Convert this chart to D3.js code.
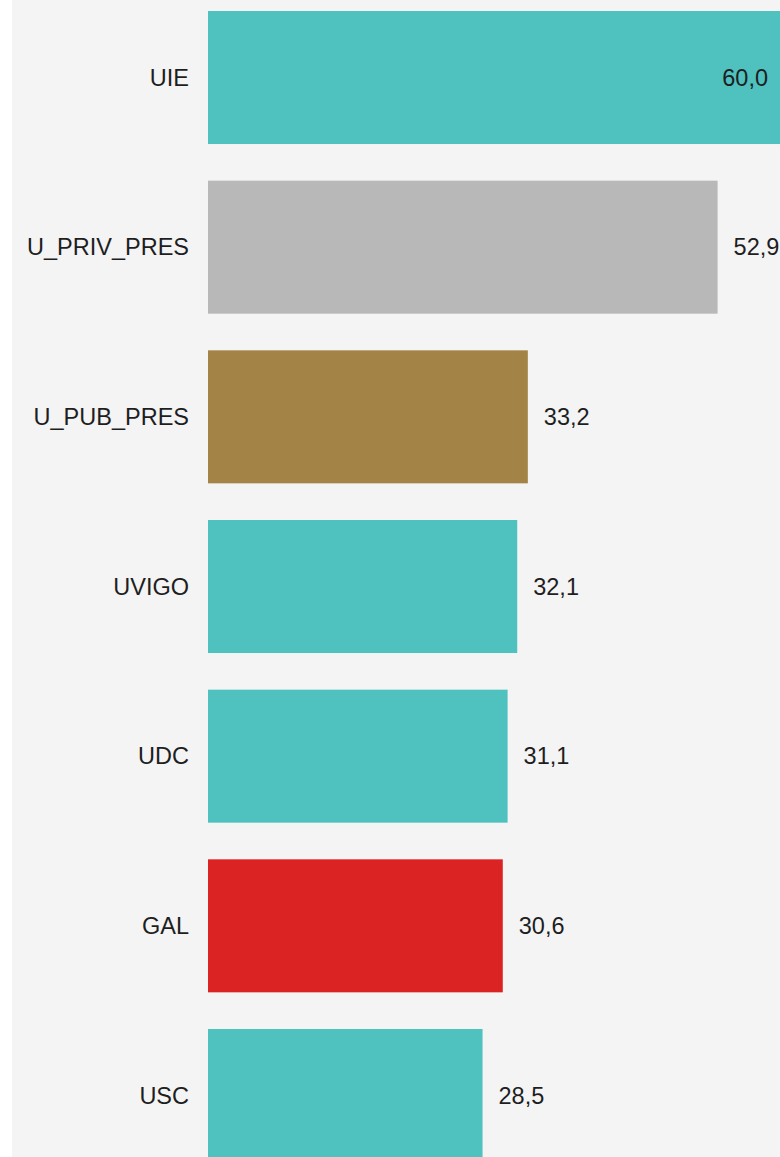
<!DOCTYPE html>
<html><head><meta charset="utf-8">
<script src="https://cdn.jsdelivr.net/npm/d3@7"></script>
<style>html,body{margin:0;padding:0;background:#fff;overflow:hidden}svg{display:block}</style>
</head><body>
<script>
const categories = ["UIE","U_PRIV_PRES","U_PUB_PRES","UVIGO","UDC","GAL","USC"];
const values = [60.0, 52.9, 33.2, 32.1, 31.1, 30.6, 28.5];
const colors = ["#4fc1bf","#b8b8b8","#a38446","#4fc1bf","#4fc1bf","#dc2323","#4fc1bf"];

const W = 780, H = 1157;
const svg = d3.select("body").append("svg").attr("width", W).attr("height", H);
svg.append("rect").attr("x", 12).attr("y", 0).attr("width", W - 12).attr("height", H).attr("fill", "#f4f4f4");

const x = d3.scaleLinear().domain([0, 60]).range([208, 786]);
const y = d3.scaleBand().domain(categories).range([11, 1162]).paddingInner(0.216).paddingOuter(0);

const data = categories.map((c, i) => ({c, v: values[i], col: colors[i]}));
const maxV = d3.max(values);
const fmt = v => d3.format(".1f")(v).replace(".", ",");

svg.selectAll("rect.bar").data(data).join("rect").attr("class", "bar")
  .attr("x", x(0)).attr("y", d => y(d.c))
  .attr("width", d => x(d.v) - x(0)).attr("height", y.bandwidth())
  .attr("fill", d => d.col);

const font = "'Liberation Sans', Arial, sans-serif";
svg.selectAll("text.cat").data(data).join("text").attr("class", "cat")
  .attr("x", x(0) - 19).attr("y", d => y(d.c) + y.bandwidth() / 2)
  .attr("dy", "0.35em").attr("text-anchor", "end")
  .attr("font-family", font).attr("font-size", 23.5).attr("fill", "#1e1e22")
  .text(d => d.c);

svg.selectAll("text.val").data(data).join("text").attr("class", "val")
  .attr("x", d => d.v === maxV ? x(d.v) - 18 : x(d.v) + 16)
  .attr("y", d => y(d.c) + y.bandwidth() / 2)
  .attr("dy", "0.35em").attr("text-anchor", d => d.v === maxV ? "end" : "start")
  .attr("font-family", font).attr("font-size", 23.5).attr("fill", "#1e1e22")
  .text(d => fmt(d.v));
</script>
</body></html>
